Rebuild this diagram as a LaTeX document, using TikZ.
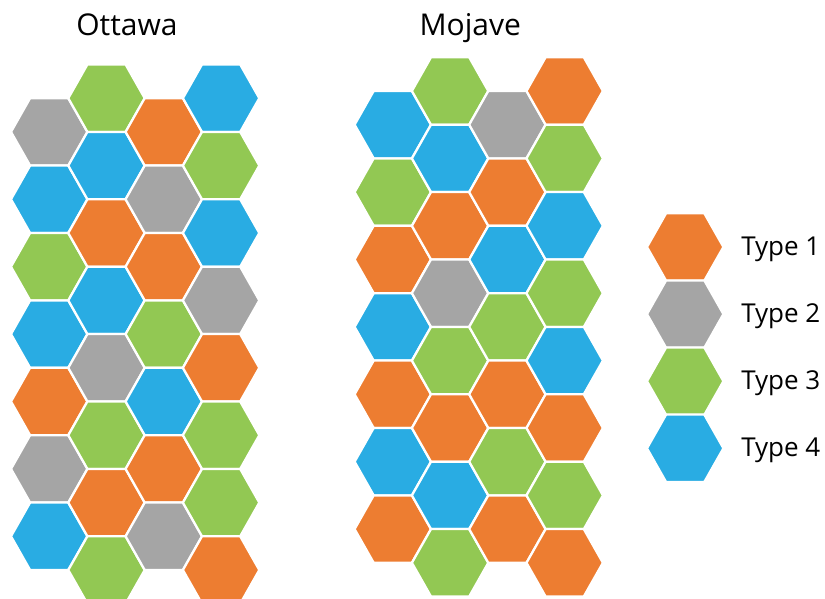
\documentclass[tikz,border=0pt]{standalone}
\usepackage{fontspec}
\setmainfont{Open Sans}
\definecolor{tyorange}{HTML}{ED7D31}
\definecolor{tygrey}{HTML}{A5A5A5}
\definecolor{tygreen}{HTML}{92C853}
\definecolor{tyblue}{HTML}{29ACE3}
\tikzset{
  hexedge/.style={draw=white, line width=1.7pt, line join=miter},
  pics/hexcell/.style={code={
    \filldraw[fill=#1, hexedge] (-38.2,0) -- (-19.1,-33.7) -- (19.1,-33.7) -- (38.2,0) -- (19.1,33.7) -- (-19.1,33.7) -- cycle;}},
  titletext/.style={font=\fontsize{22.5pt}{26pt}\selectfont, text=black, anchor=base, inner sep=0pt},
  legtext/.style={font=\fontsize{19.5pt}{23pt}\selectfont, text=black, anchor=base west, inner sep=0pt}
}
\begin{document}
\begin{tikzpicture}[x=0.75pt, y=-0.75pt]
\useasboundingbox[fill=white] (0,0) rectangle (825,599);
\begin{scope}
\clip (0,0) rectangle (825,599);
% Ottawa
\foreach \c [count=\i from 0] in {tygrey,tyblue,tygreen,tyblue,tyorange,tygrey,tyblue}
  \pic at (49.2,131.9+67.4*\i) {hexcell=\c};
\foreach \c [count=\i from 0] in {tygreen,tyblue,tyorange,tyblue,tygrey,tygreen,tyorange,tygreen}
  \pic at (106.5,98.2+67.4*\i) {hexcell=\c};
\foreach \c [count=\i from 0] in {tyorange,tygrey,tyorange,tygreen,tyblue,tyorange,tygrey}
  \pic at (163.8,131.9+67.4*\i) {hexcell=\c};
\foreach \c [count=\i from 0] in {tyblue,tygreen,tyblue,tygrey,tyorange,tygreen,tygreen,tyorange}
  \pic at (221.1,98.2+67.4*\i) {hexcell=\c};
% Mojave
\foreach \c [count=\i from 0] in {tyblue,tygreen,tyorange,tyblue,tyorange,tyblue,tyorange}
  \pic at (392.8,124.7+67.4*\i) {hexcell=\c};
\foreach \c [count=\i from 0] in {tygreen,tyblue,tyorange,tygrey,tygreen,tyorange,tyblue,tygreen}
  \pic at (450.1,91+67.4*\i) {hexcell=\c};
\foreach \c [count=\i from 0] in {tygrey,tyorange,tyblue,tygreen,tyorange,tygreen,tyorange}
  \pic at (507.4,124.7+67.4*\i) {hexcell=\c};
\foreach \c [count=\i from 0] in {tyorange,tygreen,tyblue,tygreen,tyblue,tyorange,tygreen,tyorange}
  \pic at (564.7,91+67.4*\i) {hexcell=\c};
% Legend
\foreach \c/\t [count=\i from 0] in {tyorange/1,tygrey/2,tygreen/3,tyblue/4}{
  \pic at (685.2,247+67.1*\i) {hexcell=\c};
  \node[legtext] (leg\t) at (741,255.5+67.1*\i) {Type \t};
}
\end{scope}
\node[titletext] (ottawa) at (127,36) {Ottawa};
\node[titletext] (mojave) at (470.3,36) {Mojave};
\end{tikzpicture}
\end{document}
